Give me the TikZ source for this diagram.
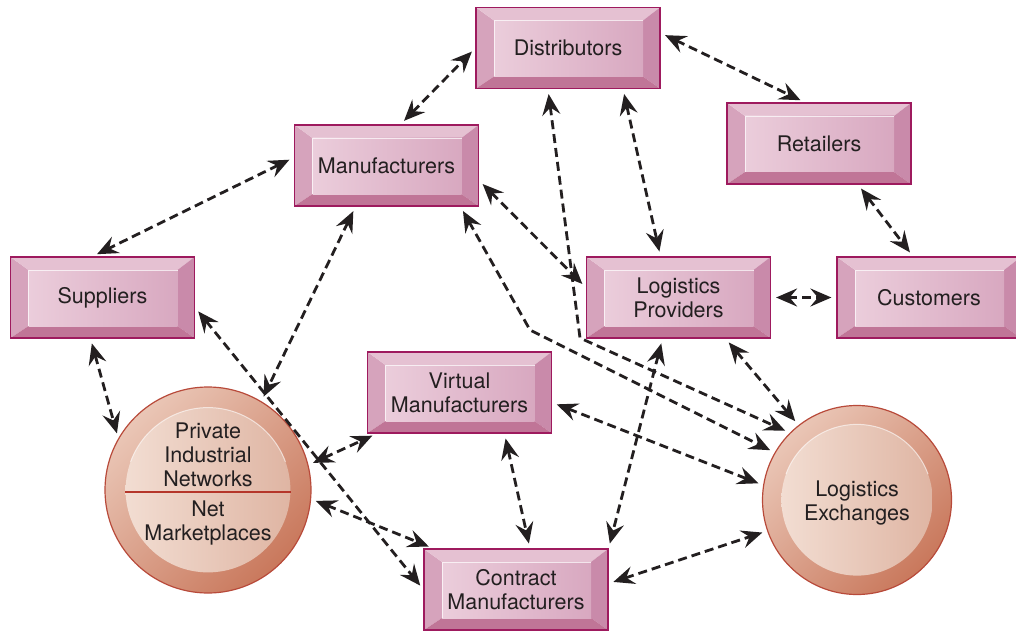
\documentclass[tikz,border=0pt]{standalone}
\usepackage{fontspec}
\setmainfont{TeX Gyre Heros}
\usepackage{tikz}
\usetikzlibrary{calc}
\usetikzlibrary{arrows.meta}
\definecolor{boxedge}{HTML}{9E1A5E}
\definecolor{bevtop}{HTML}{E5C1D2}
\definecolor{bevleft}{HTML}{D6A3BC}
\definecolor{bevright}{HTML}{C98AAA}
\definecolor{bevbot}{HTML}{C07597}
\definecolor{faceL}{HTML}{EBCDDB}
\definecolor{faceR}{HTML}{D8A8C0}
\definecolor{ringL}{HTML}{EAC6B6}
\definecolor{ringR}{HTML}{C9785C}
\definecolor{diskL}{HTML}{F2DDD2}
\definecolor{diskR}{HTML}{DFB5A3}
\definecolor{hubedge}{HTML}{B84A3A}
\definecolor{divred}{HTML}{B5362A}
\definecolor{ink}{HTML}{231F20}
\newcommand{\boxfont}{\fontsize{21.5pt}{24pt}\selectfont}
\tikzset{panel/.style={rectangle, minimum width=184pt, minimum height=81pt, draw=boxedge, line width=1.2pt,
    align=center, font=\boxfont, text=ink,
    path picture={
      \path (path picture bounding box.north west) coordinate (pA) (path picture bounding box.north east) coordinate (pB)
            (path picture bounding box.south east) coordinate (pC) (path picture bounding box.south west) coordinate (pD);
      \path ($(pA)+(18pt,-13pt)$) coordinate (qA) ($(pB)+(-17pt,-13pt)$) coordinate (qB)
            ($(pC)+(-17pt,12pt)$) coordinate (qC) ($(pD)+(18pt,12pt)$) coordinate (qD);
      \fill[bevleft] (pA) -- (qA) -- (qD) -- (pD) -- cycle;
      \fill[bevtop] (pA) -- (pB) -- (qB) -- (qA) -- cycle;
      \fill[bevright] (pB) -- (pC) -- (qC) -- (qB) -- cycle;
      \fill[bevbot] (pD) -- (qD) -- (qC) -- (pC) -- cycle;
      \shade[left color=faceL, right color=faceR] (qA) rectangle (qC);
      \draw[white, line width=0.8pt, opacity=.7] (qD) -- (qA) -- (qB);
    }}}
\tikzset{hub/.style={circle, minimum size=#1, inner sep=0pt, draw=hubedge, line width=1.2pt,
    align=center, font=\boxfont, text=ink,
    path picture={
      \shade[top color=ringL, bottom color=ringR, shading angle=45]
        (path picture bounding box.south west) rectangle (path picture bounding box.north east);
      \shade[left color=diskL, right color=diskR] (path picture bounding box.center) circle[radius=0.4*#1];
      \draw[white, line width=1pt, opacity=.6] ([shift={(160:0.4*#1)}]path picture bounding box.center)
        arc[start angle=160, end angle=20, radius=0.4*#1];
    }}}
\tikzset{hubtext/.style={align=center, font=\boxfont, text=ink, inner sep=0pt}}
\tikzset{divider/.style={divred, line width=2.8pt}}
\tikzset{link/.style={<->, >={Stealth[length=21pt, width=18pt, inset=7.5pt]}, draw=ink, line width=2.8pt,
    dash pattern=on 9pt off 5pt, shorten <=5pt, shorten >=5pt}}

\begin{document}
\begin{tikzpicture}[x=1pt, y=-1pt]
\useasboundingbox (0,0) rectangle (1016,631);
\clip (0,0) rectangle (1016,631);
\node[panel] (dist) at (568,48) {Distributors};
\node[panel] (manu) at (386.5,165.5) {Manufacturers};
\node[panel] (ret) at (819,143.5) {Retailers};
\node[panel] (supp) at (102.5,297.5) {Suppliers};
\node[panel] (lp) at (678.5,297.5) {Logistics\\Providers};
\node[panel] (cust) at (929,297.5) {Customers};
\node[panel] (vm) at (459.5,392.5) {Virtual\\Manufacturers};
\node[panel] (cm) at (516,589.5) {Contract\\Manufacturers};
\node[hub=206pt] (pin) at (208,490) {};
\draw[divider] ([xshift=-83pt,yshift=-2pt]pin.center) -- ([xshift=83pt,yshift=-2pt]pin.center);
\node[hubtext] (pintop) at (208,455) {Private\\Industrial\\Networks};
\node[hubtext] (pinbot) at (208,523) {Net\\Marketplaces};
\node[hub=189pt] (lex) at (857,500) {};
\node[hubtext] (lextext) at (857,503) {Logistics\\Exchanges};
\coordinate (bendM) at (530,330);
\coordinate (bendD) at (580,338);
\draw[link] ([xshift=14pt]manu.north) -- (dist.west);
\draw[link] ([yshift=15pt]dist.east) -- ([xshift=-14pt]ret.north);
\draw[link] ([xshift=55pt]dist.south) -- ([xshift=-18pt]lp.north);
\draw[link] ([xshift=-20pt]dist.south) -- (bendD) -- (lex.135);
\draw[link] ([yshift=8pt]manu.west) -- ([xshift=-10pt]supp.north);
\draw[link] ([xshift=-31pt]manu.south) -- (pin.59);
\draw[link] ([yshift=-15pt]manu.east) -- ([yshift=10pt]lp.west);
\draw[link] ([xshift=74pt]manu.south) -- (bendM) -- (lex.150);
\draw[link] ([xshift=39pt]ret.south) -- ([xshift=-16pt]cust.north);
\draw[link] (lp.east) -- (cust.west);
\draw[link] ([xshift=-16pt]lp.south) -- (cm.north east);
\draw[link] ([xshift=47pt]lp.south) -- (lex.128);
\draw[link] ([xshift=-12pt]supp.south) -- (pin.150);
\draw[link] ([yshift=-10pt]supp.east) -- (cm.west);
\draw[link] (pin.14) -- ([xshift=10pt]vm.south west);
\draw[link] (pin.-5) -- ([xshift=10pt]cm.north west);
\draw[link] ([xshift=45pt]vm.south) -- ([xshift=14pt]cm.north);
\draw[link] ([yshift=-10pt]vm.east) -- (lex.171);
\draw[link] ([yshift=6pt]cm.east) -- (lex.199);
\end{tikzpicture}
\end{document}
